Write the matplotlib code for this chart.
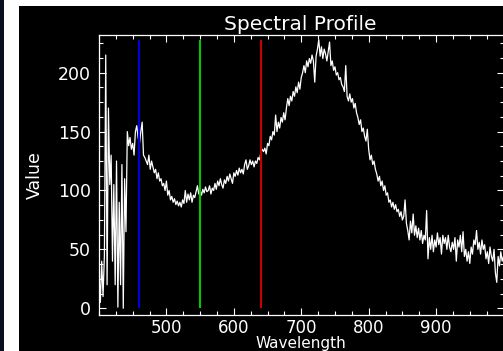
import numpy as np
import matplotlib.pyplot as plt
from matplotlib.patches import Rectangle
from matplotlib.ticker import MultipleLocator

# --- Data (2 nm steps from 400 to 1000) ---
wavelength = np.arange(400, 1001, 2)

value_400s = [30, 5, 40, 10, 45, 215, 20, 170, 105, 130,
              40, 105, 20, 125, 1, 90, 20, 122, 0, 110,
              65, 150, 138, 145, 135, 140, 130, 150, 155, 145,
              140, 150, 158, 130, 128, 125, 122, 130, 118, 125,
              120, 115, 118, 110, 115, 108, 110, 104, 106, 100]
value_500s = [108, 96, 100, 92, 95, 90, 93, 88, 91, 87,
              90, 86, 92, 89, 100, 90, 97, 92, 98, 90,
              96, 94, 99, 104, 97, 100, 96, 101, 98, 103,
              99, 100, 104, 97, 102, 100, 106, 101, 108, 104,
              110, 105, 102, 109, 106, 112, 108, 114, 110, 106]
value_600s = [115, 112, 117, 113, 119, 115, 118, 114, 122, 126,
              118, 121, 126, 122, 125, 120, 125, 123, 128, 126,
              132, 135, 133, 136, 131, 140, 138, 146, 143, 150,
              147, 164, 150, 158, 153, 162, 158, 166, 160, 170,
              178, 172, 180, 176, 184, 180, 188, 183, 192, 186]
value_700s = [196, 200, 206, 200, 210, 205, 212, 208, 215, 210,
              192, 214, 220, 228, 214, 222, 212, 220, 216, 210,
              218, 226, 206, 210, 202, 205, 198, 200, 194, 196,
              190, 188, 184, 206, 180, 176, 182, 175, 178, 170,
              174, 166, 162, 156, 160, 150, 153, 146, 142, 152]
value_800s = [135, 126, 130, 122, 125, 118, 114, 108, 112, 104,
              108, 100, 104, 96, 98, 90, 92, 86, 90, 84,
              88, 82, 84, 78, 82, 75, 78, 92, 72, 66,
              58, 74, 64, 80, 62, 70, 60, 68, 58, 66,
              55, 62, 58, 83, 42, 60, 50, 62, 48, 58]
value_900s = [52, 64, 54, 60, 46, 62, 55, 60, 50, 62,
              52, 48, 56, 50, 60, 40, 58, 52, 62, 48,
              65, 44, 50, 40, 48, 38, 52, 46, 58, 54,
              66, 50, 56, 46, 58, 50, 54, 42, 48, 38,
              52, 44, 40, 50, 30, 22, 44, 36, 48, 40,
              44]

spectrum = value_400s + value_500s + value_600s + value_700s + value_800s + value_900s

# band markers (B, G, R)
band_wl = [460, 550, 640]
band_colors = ['#0000d8', '#00c800', '#c80000']

x_ticks = [500, 600, 700, 800, 900]
y_ticks = [0, 50, 100, 150, 200]

# --- Figure ---
W, H = 503, 351
fig = plt.figure(figsize=(W / 100, H / 100), dpi=100, facecolor='white')

# window frame: navy strip on the left, white margin, black plot window
fig.add_artist(Rectangle((0, 0), 4 / W, 1, transform=fig.transFigure,
                         facecolor='#0b1020', edgecolor='none', zorder=0))
fig.add_artist(Rectangle((19 / W, 0), 1 - 19 / W, 1 - 6 / H, transform=fig.transFigure,
                         facecolor='black', edgecolor='none', zorder=0))

ax = fig.add_axes([99 / W, 36 / H, (503.5 - 99) / W, (315 - 35) / H])
ax.set_facecolor('black')
ax.patch.set_alpha(0)

ax.plot(wavelength, spectrum, color='white', linewidth=0.9)
for wl, c in zip(band_wl, band_colors):
    ax.vlines(wl, 0, max(spectrum), color=c, linewidth=1.5)

ax.set_xlim(400, 1000)
ax.set_ylim(-5.7, 232)

ax.set_xticks(x_ticks)
ax.set_yticks(y_ticks)
ax.xaxis.set_minor_locator(MultipleLocator(25))
ax.yaxis.set_minor_locator(MultipleLocator(12.5))

for side in ['left', 'bottom', 'top']:
    ax.spines[side].set_color('white')
    ax.spines[side].set_linewidth(0.9)
ax.spines['right'].set_visible(False)

ax.tick_params(which='both', direction='in', colors='white', top=True, right=True, width=0.8)
ax.tick_params(which='major', length=5.2)
ax.tick_params(which='minor', length=3.2)
ax.tick_params(axis='y', labelsize=12.5, pad=5.8)
ax.tick_params(axis='x', labelsize=12, pad=3.0)

# --- Text ---
fig.text(300.5 / W, 1 - 29.5 / H, "Spectral Profile", color='white', fontsize=14.5,
         ha='center', va='baseline')
fig.text(301 / W, 1 - 348 / H, "Wavelength", color='white', fontsize=11,
         ha='center', va='baseline')
fig.text(35 / W, 1 - 175 / H, "Value", color='white', fontsize=12.5,
         rotation=90, ha='center', va='center')

fig.savefig('out.png', dpi=100, facecolor=fig.get_facecolor())
